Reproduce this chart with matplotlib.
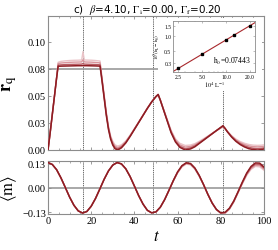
import numpy as np
import matplotlib
matplotlib.use("Agg")
import matplotlib.pyplot as plt
from matplotlib.ticker import FixedLocator, FixedFormatter, MultipleLocator, NullFormatter, NullLocator

plt.rcParams['font.family'] = ['Liberation Serif', 'DejaVu Serif']
plt.rcParams['mathtext.fontset'] = 'stix'

# ---------------- data ----------------
t_r = [0, 1, 2, 3, 4, 4.7, 6, 8, 10, 12, 14, 15.6, 16.2, 16.8, 18, 20, 22, 24.1,
       25, 26, 27, 28, 29, 30, 31, 32.3, 34, 36, 38, 40, 42, 44, 46, 48, 50, 51,
       52, 53, 54, 55, 57, 59, 61, 63.5, 66, 68, 70, 72, 74, 76, 78, 80, 81, 82,
       83, 85, 87, 89, 91, 93, 95, 97, 99, 100]

r_dark = [0.000, 0.016, 0.033, 0.050, 0.067, 0.0775, 0.0776, 0.0777, 0.0778, 0.0779,
          0.0780, 0.0780, 0.0781, 0.0780, 0.0780, 0.0779, 0.0778, 0.0776,
          0.064, 0.048, 0.032, 0.019, 0.010, 0.0045, 0.0012, 0.0000,
          0.0020, 0.0065, 0.0125, 0.0190, 0.0255, 0.0320, 0.0385, 0.0445, 0.0495, 0.0515,
          0.0460, 0.0400, 0.0340, 0.0280, 0.0160, 0.0075, 0.0025, 0.0000,
          0.0010, 0.0030, 0.0060, 0.0090, 0.0120, 0.0150, 0.0180, 0.0210, 0.0225, 0.0200,
          0.0170, 0.0120, 0.0080, 0.0050, 0.0028, 0.0012, 0.0004, 0.0000, 0.0004, 0.0010]

r_mid = [0.000, 0.016, 0.033, 0.050, 0.067, 0.0785, 0.0788, 0.0790, 0.0792, 0.0793,
         0.0794, 0.0795, 0.0800, 0.0795, 0.0794, 0.0793, 0.0791, 0.0788,
         0.065, 0.049, 0.033, 0.020, 0.011, 0.0055, 0.0022, 0.0010,
         0.0028, 0.0070, 0.0128, 0.0192, 0.0256, 0.0321, 0.0386, 0.0446, 0.0496, 0.0512,
         0.0462, 0.0402, 0.0343, 0.0284, 0.0166, 0.0083, 0.0035, 0.0012,
         0.0020, 0.0038, 0.0065, 0.0093, 0.0122, 0.0151, 0.0180, 0.0208, 0.0220, 0.0199,
         0.0171, 0.0124, 0.0086, 0.0058, 0.0038, 0.0024, 0.0016, 0.0013, 0.0016, 0.0020]

r_light = [0.000, 0.016, 0.033, 0.050, 0.067, 0.0800, 0.0805, 0.0808, 0.0811, 0.0813,
           0.0814, 0.0815, 0.0835, 0.0815, 0.0814, 0.0813, 0.0810, 0.0806,
           0.066, 0.050, 0.034, 0.021, 0.012, 0.0068, 0.0035, 0.0022,
           0.0037, 0.0076, 0.0132, 0.0195, 0.0258, 0.0322, 0.0386, 0.0445, 0.0494, 0.0508,
           0.0463, 0.0405, 0.0347, 0.0289, 0.0174, 0.0093, 0.0048, 0.0027,
           0.0033, 0.0048, 0.0072, 0.0098, 0.0125, 0.0153, 0.0180, 0.0205, 0.0215, 0.0197,
           0.0172, 0.0128, 0.0093, 0.0068, 0.0050, 0.0038, 0.0031, 0.0029, 0.0031, 0.0034]

r_pale = [0.000, 0.016, 0.033, 0.050, 0.067, 0.0812, 0.0820, 0.0825, 0.0828, 0.0830,
          0.0831, 0.0833, 0.0910, 0.0833, 0.0832, 0.0831, 0.0828, 0.0823,
          0.067, 0.051, 0.035, 0.022, 0.013, 0.0080, 0.0048, 0.0036,
          0.0048, 0.0083, 0.0137, 0.0198, 0.0260, 0.0323, 0.0386, 0.0444, 0.0492, 0.0504,
          0.0464, 0.0408, 0.0351, 0.0294, 0.0182, 0.0104, 0.0062, 0.0042,
          0.0046, 0.0059, 0.0080, 0.0104, 0.0129, 0.0155, 0.0180, 0.0202, 0.0210, 0.0195,
          0.0173, 0.0133, 0.0101, 0.0078, 0.0062, 0.0051, 0.0045, 0.0043, 0.0045, 0.0048]

t_m = list(range(0, 101, 2))
m_dark = [0.130, 0.120, 0.093, 0.051, 0.002, -0.048, -0.090, -0.119, -0.130, -0.122,
          -0.095, -0.055, -0.006, 0.044, 0.087, 0.117, 0.130, 0.123, 0.098, 0.058,
          0.009, -0.041, -0.084, -0.116, -0.129, -0.124, -0.100, -0.061, -0.013,
          0.037, 0.082, 0.114, 0.129, 0.125, 0.102, 0.064, 0.017, -0.034, -0.079,
          -0.112, -0.129, -0.126, -0.105, -0.068, -0.020, 0.030, 0.076, 0.110, 0.128,
          0.127, 0.107]
m_mid = m_dark[:29] + [0.036, 0.080, 0.112, 0.127, 0.123, 0.100, 0.063, 0.017, -0.033,
                       -0.078, -0.112, -0.130, -0.128, -0.107, -0.070, -0.022, 0.027,
                       0.072, 0.105, 0.122, 0.121, 0.102]
m_light = m_dark[:29] + [0.035, 0.078, 0.110, 0.125, 0.121, 0.098, 0.061, 0.016, -0.033,
                         -0.078, -0.113, -0.131, -0.130, -0.109, -0.072, -0.024, 0.024,
                         0.068, 0.100, 0.116, 0.115, 0.096]
m_pale = m_dark[:29] + [0.034, 0.076, 0.107, 0.122, 0.118, 0.096, 0.059, 0.015, -0.033,
                        -0.078, -0.114, -0.132, -0.132, -0.111, -0.074, -0.026, 0.021,
                        0.064, 0.095, 0.110, 0.108, 0.090]

r_series = [r_pale, r_light, r_mid, r_dark]
m_series = [m_pale, m_light, m_mid, m_dark]
series_colors = ['#eac3c7', '#d9959c', '#b85a62', '#8e1c22']

t_marks = [16.2, 48.6, 81.0]
r_ref_level = 0.075
r_ref_end = 52.0

inv_L = [2.5, 5.0, 10.0, 12.5, 20.0]
dh = [0.235, 0.44, 0.83, 1.01, 1.55]

r_ticks = [0.0, 0.025, 0.05, 0.075, 0.10]
r_ticklabels = ['0.00', '0.03', '0.05', '0.08', '0.10']
m_ticks = [-0.125, 0.0, 0.125]
m_ticklabels = ['\u22120.13', '0.00', '0.13']
t_ticks = [0, 20, 40, 60, 80, 100]
in_xticks = [2.5, 5.0, 10.0, 20.0]
in_xticklabels = ['2.5', '5.0', '10.0', '20.0']
in_yticks = [0.3, 0.5, 1.0, 1.5]
in_yticklabels = ['0.3', '0.5', '1.0', '1.5']

# ---------------- figure ----------------
W, H = 278, 251
fig = plt.figure(figsize=(W / 100, H / 100), dpi=100)

def box(x0, y0, x1, y1):
    return [x0 / W, 1 - y1 / H, (x1 - x0) / W, (y1 - y0) / H]

ax1 = fig.add_axes(box(48, 17, 264, 151))
ax2 = fig.add_axes(box(48, 162, 264, 215))
spine_col = '#8c8c8c'

for ax in (ax1, ax2):
    for s in ax.spines.values():
        s.set_color(spine_col)
        s.set_linewidth(0.8)
    ax.tick_params(which='both', direction='in', top=True, right=True,
                   color=spine_col, labelsize=7.5, pad=1.5)
    ax.tick_params(which='major', length=2.5, width=0.6)
    ax.tick_params(which='minor', length=1.5, width=0.5)
    ax.set_xlim(0, 100)
    ax.xaxis.set_major_locator(FixedLocator(t_ticks))
    ax.xaxis.set_minor_locator(MultipleLocator(5))
    for tm in t_marks:
        ax.axvline(tm, color='#555555', lw=0.6, dashes=(1.6, 1.0), zorder=1)

# top panel
ax1.hlines(r_ref_level, 0, r_ref_end, color='#9a9a9a', lw=1.2, zorder=1.5)
for vals, c in zip(r_series, series_colors):
    ax1.plot(t_r, vals, color=c, lw=1.1 if c == series_colors[-1] else 1.0, zorder=3)
ax1.set_ylim(0, 0.124)
ax1.yaxis.set_major_locator(FixedLocator(r_ticks))
ax1.yaxis.set_major_formatter(FixedFormatter(r_ticklabels))
ax1.xaxis.set_major_formatter(NullFormatter())
ax1.set_ylabel(r'$\mathbf{r}_{\mathrm{q}}$', fontsize=13, labelpad=6)
ax1.set_title(r'c)  $\beta$=4.10, $\Gamma_{\rm i}$=0.00, $\Gamma_{\rm f}$=0.20',
              fontsize=7.5, family='DejaVu Sans', pad=3, x=0.46)

# bottom panel
ax2.axhline(0, color='#9a9a9a', lw=1.2, zorder=1.5)
for vals, c in zip(m_series, series_colors):
    ax2.plot(t_m, vals, color=c, lw=1.1 if c == series_colors[-1] else 1.0, zorder=3)
ax2.set_ylim(-0.135, 0.138)
ax2.yaxis.set_major_locator(FixedLocator(m_ticks))
ax2.yaxis.set_major_formatter(FixedFormatter(m_ticklabels))
ax2.set_ylabel(r'$\langle\mathrm{m}\rangle$', fontsize=12, labelpad=2)
ax2.set_xlabel(r'$t$', fontsize=12, labelpad=2)

# white backing for inset
bg = fig.add_axes(box(158, 19, 262, 92))
bg.set_xticks([])
bg.set_yticks([])
for s in bg.spines.values():
    s.set_visible(False)
bg.set_facecolor('white')

# inset
ax3 = fig.add_axes(box(173, 22, 255, 73))
ax3.set_xscale('log')
ax3.set_yscale('log')
ax3.set_xlim(2.14, 23.1)
ax3.set_ylim(0.2, 1.9)
coef = np.polyfit(np.log(inv_L), np.log(dh), 1)
xfit = np.array(ax3.get_xlim())
ax3.plot(xfit, np.exp(np.polyval(coef, np.log(xfit))), color='#a8282c', lw=0.8, zorder=2)
ax3.plot(inv_L, dh, 's', color='black', ms=1.9, zorder=3)
for s in ax3.spines.values():
    s.set_color(spine_col)
    s.set_linewidth(0.6)
ax3.xaxis.set_major_locator(FixedLocator(in_xticks))
ax3.xaxis.set_major_formatter(FixedFormatter(in_xticklabels))
ax3.yaxis.set_major_locator(FixedLocator(in_yticks))
ax3.yaxis.set_major_formatter(FixedFormatter(in_yticklabels))
ax3.xaxis.set_minor_formatter(NullFormatter())
ax3.yaxis.set_minor_locator(NullLocator())
ax3.tick_params(which='both', direction='in', top=True, right=True,
                color=spine_col, labelsize=4, pad=1.2)
ax3.tick_params(which='major', length=1.5, width=0.4)
ax3.tick_params(which='minor', length=1.0, width=0.3)
ax3.set_xlabel(r'$10^4\ \mathrm{L}^{-1}$', fontsize=4.5, labelpad=0.5)
ax3.set_ylabel(r'$10^2(\mathrm{h_L}-\mathrm{h_0})$', fontsize=3.5, labelpad=1)
ax3.text(0.95, 0.12, r'$\mathrm{h_0}$=0.07443', transform=ax3.transAxes,
         ha='right', va='bottom', fontsize=5.5)

fig.savefig('out.png', dpi=100)
